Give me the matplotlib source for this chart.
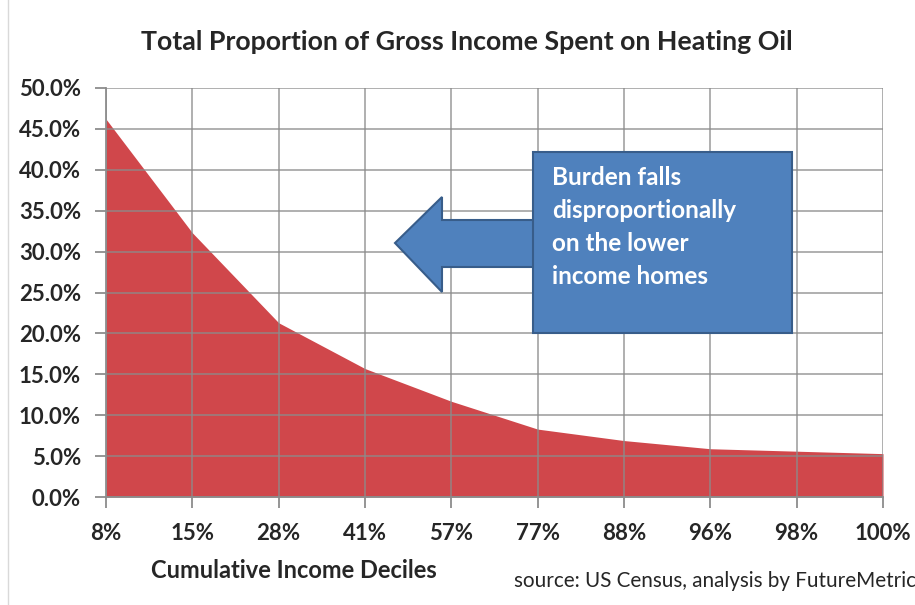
import matplotlib
matplotlib.use("Agg")
import matplotlib.pyplot as plt
from matplotlib.patches import Polygon, Rectangle
from matplotlib.ticker import PercentFormatter

# ---- data -----------------------------------------------------------------
deciles = ["8%", "15%", "28%", "41%", "57%", "77%", "88%", "96%", "98%", "100%"]
share_pct = [46.2, 32.3, 21.3, 15.7, 11.7, 8.3, 6.9, 5.9, 5.6, 5.3]
y_ticks = [0, 5, 10, 15, 20, 25, 30, 35, 40, 45, 50]

W, H = 915, 605
plt.rcParams.update({"font.family": ["Lato", "DejaVu Sans"]})

fig = plt.figure(figsize=(W / 100, H / 100), dpi=100)
fig.patch.set_facecolor("white")


def fx(x):
    return x / W


def fy(y):
    return 1 - y / H


ax = fig.add_axes([fx(106), fy(497), fx(883) - fx(106), fy(88) - fy(497)])
x = list(range(len(deciles)))
ax.fill_between(x, share_pct, 0, color="#d0474b", lw=0, zorder=1)
ax.set_xlim(0, len(deciles) - 1)
ax.set_ylim(0, 50)
ax.set_yticks(y_ticks)
ax.yaxis.set_major_formatter(PercentFormatter(decimals=1))
ax.set_xticks(x, deciles)
ax.grid(True, color="#8c8c8c", lw=1.3, alpha=0.75, zorder=2)
ax.set_axisbelow(False)
for s in ("top", "right"):
    ax.spines[s].set_visible(False)
for s in ("left", "bottom"):
    ax.spines[s].set_color("#8c8c8c")
    ax.spines[s].set_linewidth(1.3)
ax.tick_params(axis="y", length=8, width=1.3, color="#8c8c8c", pad=10,
               labelsize=16, labelcolor="#262626")
ax.tick_params(axis="x", length=8, width=1.3, color="#8c8c8c", pad=11,
               labelsize=16, labelcolor="#262626")
for lab in ax.get_xticklabels() + ax.get_yticklabels():
    lab.set_fontweight("bold")

fig.text(fx(467), fy(42), "Total Proportion of Gross Income Spent on Heating Oil",
         ha="center", va="center", fontsize=19.3, fontweight="bold", color="#262626")
fig.text(fx(294), fy(570), "Cumulative Income Deciles", ha="center", va="center",
         fontsize=17, fontweight="bold", color="#262626")
fig.text(fx(514), fy(581), "source: US Census, analysis by FutureMetric",
         ha="left", va="center", fontsize=14.9, color="#262626")

# callout arrow + box
arrow = [(395, 243), (442, 197), (442, 220), (540, 220), (540, 267),
         (442, 267), (442, 292)]
fig.patches.append(Polygon([(fx(a), fy(b)) for a, b in arrow],
                           closed=True, transform=fig.transFigure,
                           facecolor="#4f81bd", edgecolor="#385d8a", lw=1.5))
fig.patches.append(Rectangle((fx(533), fy(333)), fx(792) - fx(533),
                             fy(152) - fy(333), transform=fig.transFigure,
                             facecolor="#4f81bd", edgecolor="#385d8a", lw=1.5))
fig.text(fx(552), fy(166), "Burden falls\ndisproportionally\non the lower\nincome homes",
         ha="left", va="top", fontsize=17.5, fontweight="bold", color="white",
         linespacing=1.52)

# faint chart border on the left
fig.add_artist(plt.Line2D([fx(8), fx(8)], [0, 1], transform=fig.transFigure,
                          color="#d9d9d9", lw=1))

fig.savefig("out.png", dpi=100)
